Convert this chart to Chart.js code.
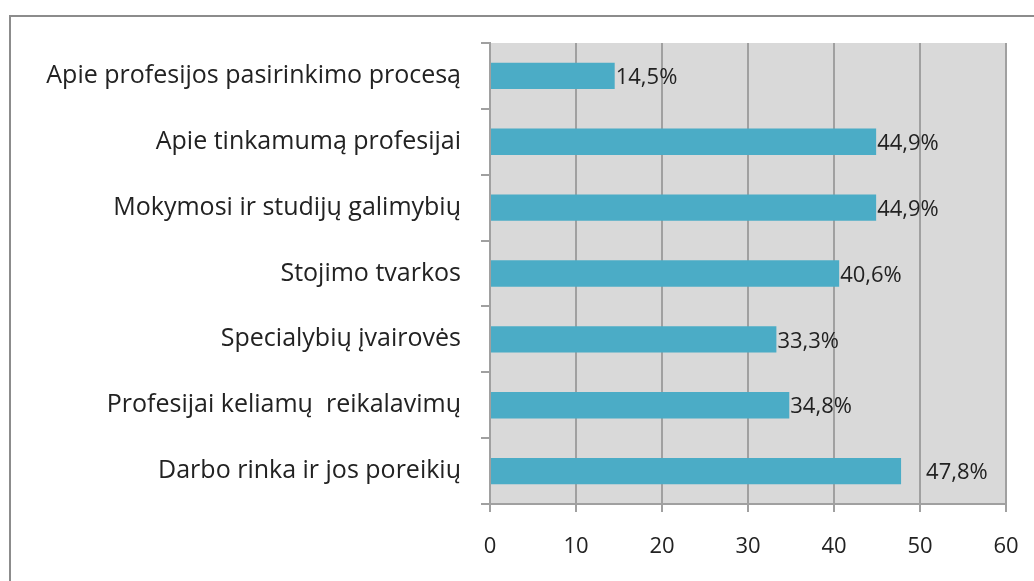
<!DOCTYPE html>
<html>
<head>
<meta charset="utf-8">
<script src="https://cdn.jsdelivr.net/npm/chart.js@4"></script>
<style>
  html, body { margin: 0; padding: 0; background: #fff; }
  #wrap { position: relative; width: 1034px; height: 581px; overflow: hidden; }
  #frame { position: absolute; left: 9px; top: 15px; width: 1100px; height: 700px; border: 2px solid #8c8c8c; }
  canvas { position: absolute; left: 0; top: 0; }
</style>
</head>
<body>
<div id="wrap">
  <div id="frame"></div>
  <canvas id="chart" width="1034" height="581"></canvas>
</div>
<script>
// categories and values
const categories = [
  "Apie profesijos pasirinkimo procesą",
  "Apie tinkamumą profesijai",
  "Mokymosi ir studijų galimybių",
  "Stojimo tvarkos",
  "Specialybių įvairovės",
  "Profesijai keliamų  reikalavimų",
  "Darbo rinka ir jos poreikių"
];
const values = [14.5, 44.9, 44.9, 40.6, 33.3, 34.8, 47.8];
const xTicks = [0, 10, 20, 30, 40, 50, 60];

const FONT = "'Open Sans', 'DejaVu Sans', sans-serif";

// grey plot background
const plotBg = {
  id: 'plotBg',
  beforeDraw(chart) {
    const { ctx, chartArea: a } = chart;
    ctx.save();
    ctx.fillStyle = '#d9d9d9';
    ctx.fillRect(a.left, a.top, a.right - a.left, a.bottom - a.top);
    ctx.restore();
  }
};

// value labels at end of bars
const barLabels = {
  id: 'barLabels',
  afterDatasetsDraw(chart) {
    const { ctx } = chart;
    const meta = chart.getDatasetMeta(0);
    ctx.save();
    ctx.font = '22px ' + FONT;
    ctx.fillStyle = '#222';
    ctx.textBaseline = 'middle';
    meta.data.forEach((bar, i) => {
      const txt = values[i].toFixed(1).replace('.', ',') + '%';
      // last label sits a bit further right in the original
      const shift = i === values.length - 1 ? 25 : 1;
      ctx.fillText(txt, bar.x + shift, bar.y + 2);
    });
    ctx.restore();
  }
};

new Chart(document.getElementById('chart'), {
  type: 'bar',
  data: {
    labels: categories,
    datasets: [{
      data: values,
      backgroundColor: '#4bacc6',
      borderWidth: 0,
      barPercentage: 0.4,
      categoryPercentage: 1
    }]
  },
  plugins: [plotBg, barLabels],
  options: {
    indexAxis: 'y',
    responsive: false,
    animation: false,
    layout: { padding: { top: 43, right: 28, left: 0, bottom: 0 } },
    plugins: { legend: { display: false }, tooltip: { enabled: false } },
    scales: {
      x: {
        min: 0, max: 60,
        afterBuildTicks: s => { s.ticks = xTicks.map(v => ({ value: v })); },
        afterFit: s => { s.height = 77; s.paddingLeft = 0; s.paddingRight = 0; },
        grid: { color: '#a0a0a0', lineWidth: 2, tickLength: 8 },
        border: { color: '#a0a0a0', width: 2 },
        ticks: { color: '#222', font: { family: FONT, size: 22 }, padding: 22 }
      },
      y: {
        afterFit: s => { s.width = 490; s.paddingTop = 0; s.paddingBottom = 0; },
        grid: { offset: true, drawOnChartArea: false, color: '#a0a0a0', lineWidth: 2, tickLength: 9 },
        border: { color: '#a0a0a0', width: 2 },
        ticks: { color: '#222', font: { family: FONT, size: 25 }, padding: 20 }
      }
    }
  }
});
</script>
</body>
</html>
